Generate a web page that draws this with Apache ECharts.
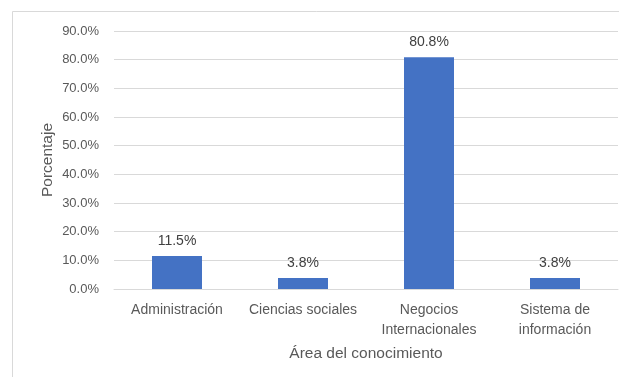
<!DOCTYPE html>
<html>
<head>
<meta charset="utf-8">
<script src="https://cdn.jsdelivr.net/npm/echarts@6/dist/echarts.min.js"></script>
<style>
  html, body { margin: 0; padding: 0; background: #fff; }
  #chart { width: 619px; height: 377px; }
</style>
</head>
<body>
<div id="chart"></div>
<script>
// Share of respondents by knowledge area (percent)
const categories = ['Administración', 'Ciencias sociales', 'Negocios\nInternacionales', 'Sistema de\ninformación'];
const percentages = [11.5, 3.8, 80.8, 3.8];
const yTicks = { min: 0, max: 90, step: 10 };

const textColor = '#595959';
const gridColor = '#d9d9d9';
const fontFamily = '"Liberation Sans", Arial, sans-serif';

const chart = echarts.init(document.getElementById('chart'), null, { renderer: 'canvas' });

chart.setOption({
  animation: false,
  backgroundColor: '#ffffff',
  textStyle: { fontFamily: fontFamily },
  graphic: [{
    type: 'rect',
    shape: { x: 12.5, y: 11.5, width: 700, height: 500 },
    style: { fill: 'none', stroke: gridColor, lineWidth: 1 },
    silent: true
  }],
  grid: { left: 114, right: 1, top: 31, bottom: 88, containLabel: false },
  xAxis: {
    type: 'category',
    data: categories,
    name: 'Área del conocimiento',
    nameLocation: 'middle',
    nameGap: 57,
    nameMoveOverlap: false,
    nameTextStyle: { color: textColor, fontSize: 15.5, fontFamily: fontFamily },
    axisLine: { show: true, lineStyle: { color: gridColor, width: 1 } },
    axisTick: { show: false },
    axisLabel: { color: textColor, fontSize: 14, lineHeight: 20, margin: 11, interval: 0, fontFamily: fontFamily }
  },
  yAxis: {
    type: 'value',
    min: yTicks.min,
    max: yTicks.max,
    interval: yTicks.step,
    name: 'Porcentaje',
    nameLocation: 'middle',
    nameGap: 58,
    nameMoveOverlap: false,
    nameTextStyle: { color: textColor, fontSize: 15.5, fontFamily: fontFamily },
    axisLine: { show: false },
    axisTick: { show: false },
    splitLine: { lineStyle: { color: gridColor, width: 1 } },
    axisLabel: {
      color: textColor, fontSize: 13, margin: 15, fontFamily: fontFamily,
      formatter: v => v.toFixed(1) + '%'
    }
  },
  series: [{
    type: 'bar',
    data: percentages,
    barWidth: 50,
    itemStyle: { color: '#4472C4' },
    label: {
      show: true,
      position: 'top',
      distance: 8,
      color: '#404040',
      fontSize: 14,
      fontFamily: fontFamily,
      formatter: p => p.value.toFixed(1) + '%'
    }
  }]
});
</script>
</body>
</html>
